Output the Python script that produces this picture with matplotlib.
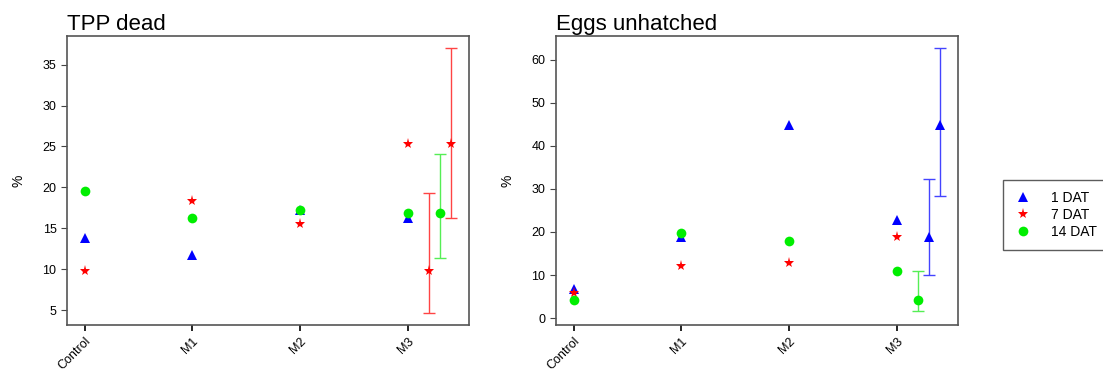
import matplotlib
matplotlib.use("Agg")
import matplotlib.pyplot as plt
from matplotlib.lines import Line2D

plt.rcParams['font.family'] = ['Liberation Sans', 'DejaVu Sans']

groups = ["Control", "M1", "M2", "M3"]
series = ["1 DAT", "7 DAT", "14 DAT"]

# TPP dead (%)
tpp_1dat = [13.8, 11.7, 17.2, 16.3]
tpp_7dat = [9.8, 18.4, 15.5, 25.3]
tpp_14dat = [19.6, 16.3, 17.3, 16.9]
# extra points with error bars next to M3: (series, value, low, high)
tpp_err_series = ["7 DAT", "14 DAT", "7 DAT"]
tpp_err_val = [9.8, 16.9, 25.3]
tpp_err_low = [4.7, 11.4, 16.3]
tpp_err_high = [19.3, 24.1, 37.0]

# Eggs unhatched (%)
egg_1dat = [6.8, 18.8, 44.9, 22.7]
egg_7dat = [5.8, 12.1, 12.9, 18.8]
egg_14dat = [4.2, 19.7, 18.0, 10.9]
egg_err_series = ["14 DAT", "1 DAT", "1 DAT"]
egg_err_val = [4.2, 18.8, 44.9]
egg_err_low = [1.6, 10.1, 28.3]
egg_err_high = [11.0, 32.2, 62.6]

err_x = [3.2, 3.3, 3.4]

style = {
    "1 DAT": dict(marker="^", color="#0000ff", ms=7),
    "7 DAT": dict(marker="*", color="#ff0000", ms=8),
    "14 DAT": dict(marker="o", color="#00ee00", ms=7),
}
err_color = {"1 DAT": "#4444ff", "7 DAT": "#ff4444", "14 DAT": "#55ee55"}


def draw_panel(ax, title, vals, err_s, err_v, err_lo, err_hi, ylim, yticks):
    xs = list(range(len(groups)))
    for name, v in zip(series, vals):
        st = style[name]
        ax.plot(xs, v, linestyle="none", marker=st["marker"], color=st["color"],
                ms=st["ms"], markeredgewidth=0)
    for x, s, v, lo, hi in zip(err_x, err_s, err_v, err_lo, err_hi):
        st = style[s]
        ax.errorbar([x], [v], yerr=[[v - lo], [hi - v]], fmt="none",
                    ecolor=err_color[s], elinewidth=1, capsize=4, capthick=1)
        ax.plot([x], [v], linestyle="none", marker=st["marker"], color=st["color"],
                ms=st["ms"], markeredgewidth=0, zorder=5)
    ax.set_xlim(-0.165, 3.57)
    ax.set_ylim(*ylim)
    ax.set_yticks(yticks)
    ax.set_xticks(xs)
    ax.set_xticklabels(groups, rotation=45, ha="right", rotation_mode="anchor",
                       fontsize=9)
    ax.tick_params(axis="y", labelsize=9, length=4, color="#444444")
    ax.tick_params(axis="x", length=4, width=1.2, color="#000000")
    for sp in ax.spines.values():
        sp.set_color("#555555")
        sp.set_linewidth(1.2)
    ax.set_ylabel("%", fontsize=10, labelpad=12)
    ax.set_title(title, loc="left", fontsize=16, pad=4)


fig = plt.figure(figsize=(11.03, 3.74), dpi=100)
ax1 = fig.add_axes([0.0607, 0.131, 0.3645, 0.773])
ax2 = fig.add_axes([0.504, 0.131, 0.3645, 0.773])

draw_panel(ax1, "TPP dead", [tpp_1dat, tpp_7dat, tpp_14dat],
           tpp_err_series, tpp_err_val, tpp_err_low, tpp_err_high,
           (3.2, 38.5), [5, 10, 15, 20, 25, 30, 35])
draw_panel(ax2, "Eggs unhatched", [egg_1dat, egg_7dat, egg_14dat],
           egg_err_series, egg_err_val, egg_err_low, egg_err_high,
           (-1.6, 65.5), [0, 10, 20, 30, 40, 50, 60])

handles = [Line2D([], [], linestyle="none", marker=style[s]["marker"],
                  color=style[s]["color"], ms=style[s]["ms"], markeredgewidth=0)
           for s in series]
leg = fig.legend(handles, series, loc="upper left", bbox_to_anchor=(0.909, 0.519),
                 fontsize=10, frameon=True, fancybox=False, edgecolor="#333333",
                 handlelength=1.3, handletextpad=1.4, borderpad=0.8,
                 labelspacing=0.2, borderaxespad=0)
leg.get_frame().set_linewidth(1.0)

plt.savefig("out.png", dpi=100)
